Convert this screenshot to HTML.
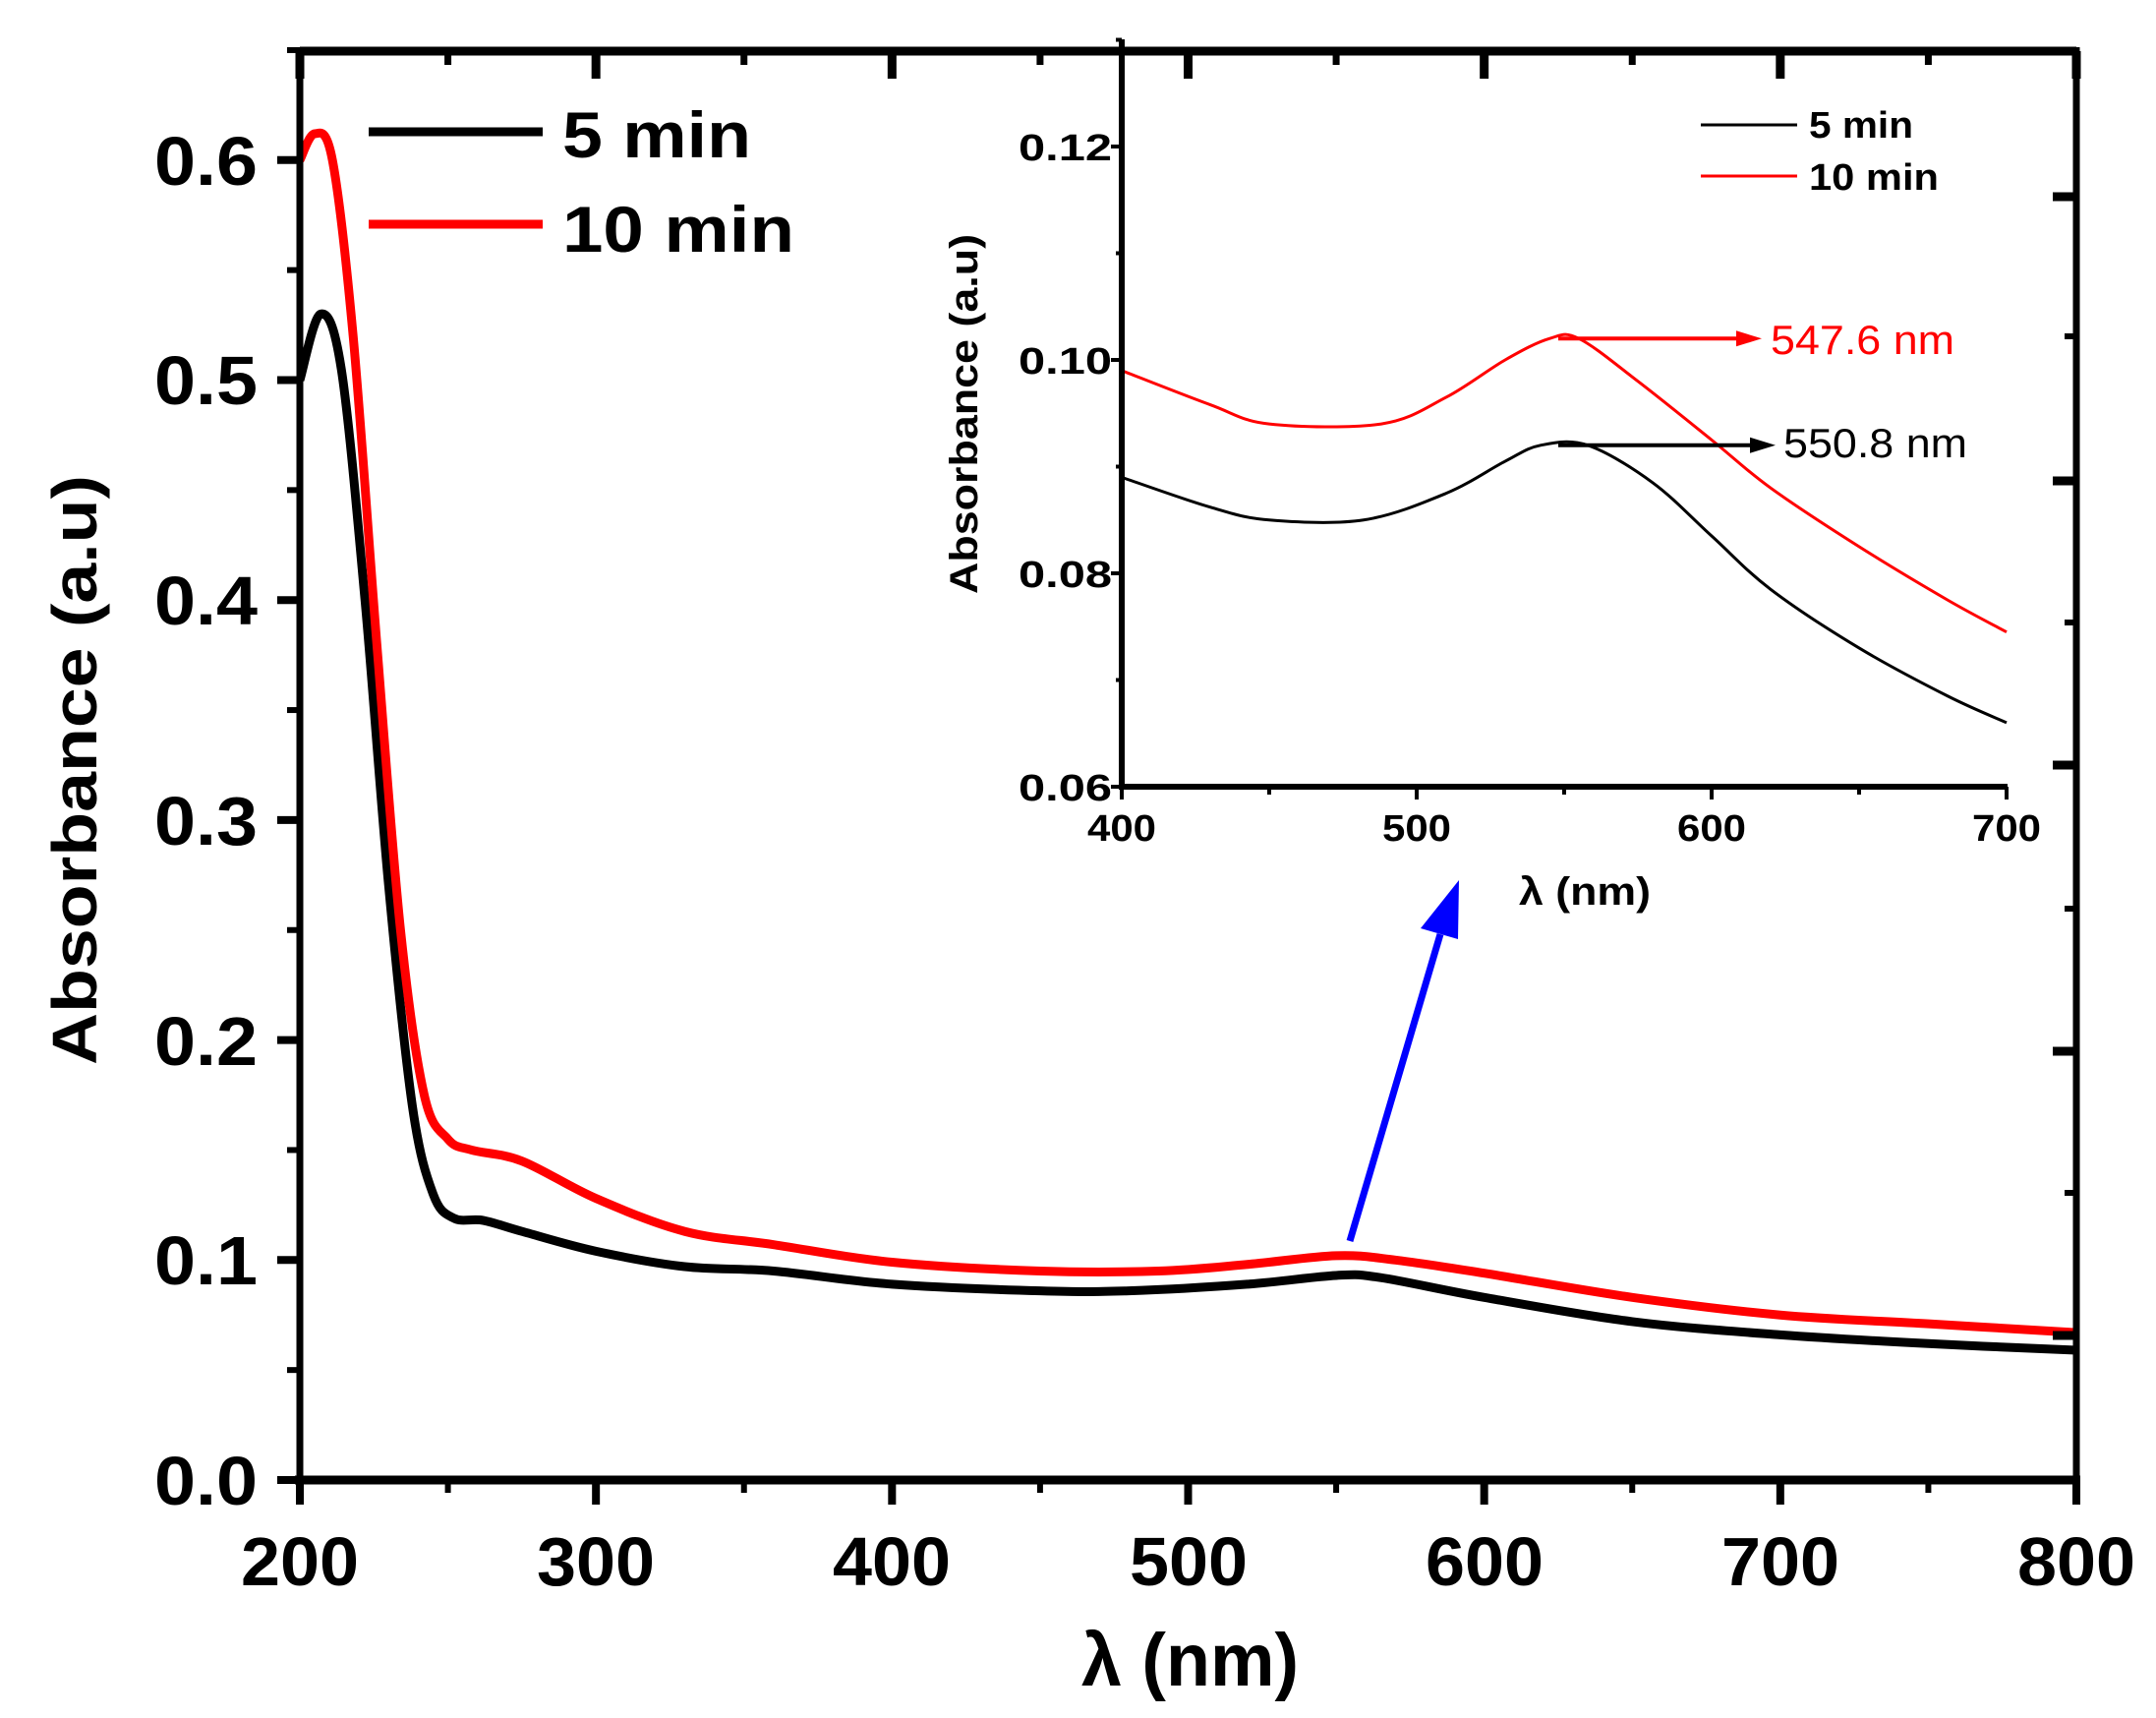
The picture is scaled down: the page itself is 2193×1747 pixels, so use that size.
<!DOCTYPE html>
<html><head><meta charset="utf-8"><style>
html,body{margin:0;padding:0;background:#fff}
svg{display:block}
text{font-family:"Liberation Sans",Arial,sans-serif;}
</style></head><body>
<svg id="s" width="2193" height="1747" viewBox="0 0 2193 1747" xmlns="http://www.w3.org/2000/svg">
<g id="g"></g>
<line x1="305" y1="52" x2="2112" y2="52" stroke="#000" stroke-width="9"/>
<line x1="305" y1="52" x2="305" y2="1509" stroke="#000" stroke-width="7"/>
<line x1="300" y1="1505" x2="2116" y2="1505" stroke="#000" stroke-width="9"/>
<line x1="2112" y1="48" x2="2112" y2="1509" stroke="#000" stroke-width="7"/>
<g font-weight="bold" font-size="70" text-anchor="end" fill="#000" lengthAdjust="spacingAndGlyphs">
<text x="262" y="1530" textLength="105" lengthAdjust="spacingAndGlyphs">0.0</text><text x="262" y="1306" textLength="105" lengthAdjust="spacingAndGlyphs">0.1</text><text x="262" y="1083" textLength="105" lengthAdjust="spacingAndGlyphs">0.2</text>
<text x="262" y="859" textLength="105" lengthAdjust="spacingAndGlyphs">0.3</text><text x="262" y="635" textLength="105" lengthAdjust="spacingAndGlyphs">0.4</text><text x="262" y="411" textLength="105" lengthAdjust="spacingAndGlyphs">0.5</text><text x="262" y="188" textLength="105" lengthAdjust="spacingAndGlyphs">0.6</text>
</g>
<g font-weight="bold" font-size="70" fill="#000">
<text x="245" y="1612" textLength="120" lengthAdjust="spacingAndGlyphs">200</text><text x="546" y="1612" textLength="120" lengthAdjust="spacingAndGlyphs">300</text><text x="847" y="1612" textLength="120" lengthAdjust="spacingAndGlyphs">400</text>
<text x="1149" y="1612" textLength="120" lengthAdjust="spacingAndGlyphs">500</text><text x="1450" y="1612" textLength="120" lengthAdjust="spacingAndGlyphs">600</text><text x="1751" y="1612" textLength="120" lengthAdjust="spacingAndGlyphs">700</text><text x="2052" y="1612" textLength="120" lengthAdjust="spacingAndGlyphs">800</text>
</g>
<text x="1100" y="1714" font-weight="bold" font-size="76" textLength="221" lengthAdjust="spacingAndGlyphs">λ (nm)</text>
<text transform="translate(98,783) rotate(-90)" font-weight="bold" font-size="64" text-anchor="middle" textLength="600" lengthAdjust="spacingAndGlyphs">Absorbance (a.u)</text>
<line x1="375" y1="134" x2="552" y2="134" stroke="#000" stroke-width="9"/>
<line x1="375" y1="228" x2="552" y2="228" stroke="#f00" stroke-width="9"/>
<text x="572" y="160" font-weight="bold" font-size="66" textLength="192" lengthAdjust="spacingAndGlyphs">5 min</text>
<text x="572" y="256" font-weight="bold" font-size="66" textLength="236" lengthAdjust="spacingAndGlyphs">10 min</text>
<line x1="1141" y1="40" x2="1141" y2="803" stroke="#000" stroke-width="6"/>
<line x1="1138" y1="800" x2="2042" y2="800" stroke="#000" stroke-width="6"/>
<g font-weight="bold" font-size="38">
<text x="1036" y="814" textLength="95" lengthAdjust="spacingAndGlyphs">0.06</text><text x="1036" y="597" textLength="95" lengthAdjust="spacingAndGlyphs">0.08</text><text x="1036" y="380" textLength="95" lengthAdjust="spacingAndGlyphs">0.10</text><text x="1036" y="163" textLength="95" lengthAdjust="spacingAndGlyphs">0.12</text>
</g>
<g font-weight="bold" font-size="38">
<text x="1106" y="855" textLength="70" lengthAdjust="spacingAndGlyphs">400</text><text x="1406" y="855" textLength="70" lengthAdjust="spacingAndGlyphs">500</text><text x="1706" y="855" textLength="70" lengthAdjust="spacingAndGlyphs">600</text><text x="2006" y="855" textLength="70" lengthAdjust="spacingAndGlyphs">700</text>
</g>
<text x="1545" y="920" font-weight="bold" font-size="40" textLength="134" lengthAdjust="spacingAndGlyphs">λ (nm)</text>
<text transform="translate(994,421) rotate(-90)" font-weight="bold" font-size="40" text-anchor="middle" textLength="366" lengthAdjust="spacingAndGlyphs">Absorbance (a.u)</text>
<line x1="1730" y1="127" x2="1828" y2="127" stroke="#000" stroke-width="3"/>
<line x1="1730" y1="179" x2="1828" y2="179" stroke="#f00" stroke-width="3"/>
<text x="1840" y="140" font-weight="bold" font-size="38" textLength="106" lengthAdjust="spacingAndGlyphs">5 min</text>
<text x="1840" y="193" font-weight="bold" font-size="38" textLength="132" lengthAdjust="spacingAndGlyphs">10 min</text>
<text x="1801" y="360" font-size="42" fill="#f00" textLength="187" lengthAdjust="spacingAndGlyphs">547.6 nm</text>
<text x="1814" y="465" font-size="42" fill="#000" textLength="187" lengthAdjust="spacingAndGlyphs">550.8 nm</text>
</svg>
<script>
var NS="http://www.w3.org/2000/svg",g=document.getElementById('g');
function el(t,a,p){var e=document.createElementNS(NS,t);for(var k in a)e.setAttribute(k,a[k]);(p||g).appendChild(e);return e;}
function mx(x){return 305+(x-200)*(2112-305)/600;} function my(y){return 1505-y*2237;}
function ix(x){return 1141+(x-400)*3;} function iy(y){return 800-(y-0.06)*10850;}
function spline(pts,fx,fy){var p=pts.map(function(q){return [fx(q[0]),fy(q[1])];});var d="M"+p[0][0]+","+p[0][1];
for(var i=0;i<p.length-1;i++){var p0=p[i-1]||p[i],p1=p[i],p2=p[i+1],p3=p[i+2]||p2;
d+=" C"+(p1[0]+(p2[0]-p0[0])/6)+","+(p1[1]+(p2[1]-p0[1])/6)+" "+(p2[0]-(p3[0]-p1[0])/6)+","+(p2[1]-(p3[1]-p1[1])/6)+" "+p2[0]+","+p2[1];}return d;}
var blk=[[200,0.50],[207,0.53],[214,0.505],[222,0.40],[230,0.27],[238,0.17],[245,0.13],[252,0.119],[262,0.118],[275,0.113],[300,0.104],[330,0.097],[360,0.095],[400,0.089],[450,0.086],[480,0.086],[520,0.089],[550,0.093],[565,0.092],[600,0.083],[650,0.072],[700,0.066],[750,0.062],[800,0.059]];
var red=[[200,0.60],[205,0.612],[211,0.60],[218,0.52],[226,0.38],[234,0.25],[242,0.175],[250,0.155],[258,0.15],[275,0.145],[300,0.128],[330,0.113],[360,0.107],[400,0.099],[450,0.095],[490,0.095],[520,0.098],[550,0.102],[570,0.100],[600,0.094],[650,0.083],[700,0.075],[750,0.071],[800,0.067]];
el('path',{d:spline(blk,mx,my),fill:'none',stroke:'#000','stroke-width':9});
el('path',{d:spline(red,mx,my),fill:'none',stroke:'#f00','stroke-width':9});
var ib=[[400,0.089],[430,0.0862],[450,0.085],[482,0.085],[510,0.0875],[530,0.0905],[542,0.092],[558,0.092],[580,0.0885],[600,0.0835],[620,0.0785],[650,0.073],[680,0.0685],[700,0.066]];
var ir=[[400,0.099],[430,0.0958],[450,0.094],[488,0.094],[510,0.0965],[530,0.1],[545,0.102],[555,0.102],[575,0.098],[600,0.0925],[620,0.088],[650,0.0825],[680,0.0775],[700,0.0745]];
el('path',{d:spline(ib,ix,iy),fill:'none',stroke:'#000','stroke-width':3});
el('path',{d:spline(ir,ix,iy),fill:'none',stroke:'#f00','stroke-width':3});
el('line',{x1:ix(548),y1:iy(0.102),x2:1770,y2:iy(0.102),stroke:'#f00','stroke-width':4});
el('polygon',{points:"1766,"+(iy(0.102)-8)+" 1792,"+iy(0.102)+" 1766,"+(iy(0.102)+8),fill:'#f00'});
el('line',{x1:ix(548),y1:iy(0.092),x2:1784,y2:iy(0.092),stroke:'#000','stroke-width':4});
el('polygon',{points:"1780,"+(iy(0.092)-8)+" 1806,"+iy(0.092)+" 1780,"+(iy(0.092)+8),fill:'#000'});
el('line',{x1:1373,y1:1262,x2:1465,y2:950,stroke:'#00f','stroke-width':7});
el('polygon',{points:"1484,895 1483,955 1445,944",fill:'#00f'});
for(var v=0;v<=0.65;v+=0.05){var y=my(v),maj=Math.round(v*100)%10==0;el('line',{x1:maj?282:292,y1:y,x2:305,y2:y,stroke:'#000','stroke-width':maj?8:6});}
for(var x=200;x<=800;x+=50){var X=mx(x),maj=x%100==0;el('line',{x1:X,y1:1505,x2:X,y2:maj?1530:1518,stroke:'#000','stroke-width':maj?8:6});
el('line',{x1:X,y1:52,x2:X,y2:maj?80:66,stroke:'#000','stroke-width':maj?9:7});}
var ry=[200,342,489,633,778,924,1069,1213,1358,1505];
ry.forEach(function(y,i){el('line',{x1:(i%2?2100:2088),y1:y,x2:2112,y2:y,stroke:'#000','stroke-width':i%2?6:9});});
for(var v=0.06;v<=0.1301;v+=0.01){var y=iy(v),maj=Math.round(v*100)%2==0;el('line',{x1:maj?1130:1135,y1:y,x2:1141,y2:y,stroke:'#000','stroke-width':4});}
for(var x=400;x<=700;x+=50){var X=ix(x),maj=x%100==0;el('line',{x1:X,y1:800,x2:X,y2:maj?813:808,stroke:'#000','stroke-width':4});}
</script>
</body></html>
